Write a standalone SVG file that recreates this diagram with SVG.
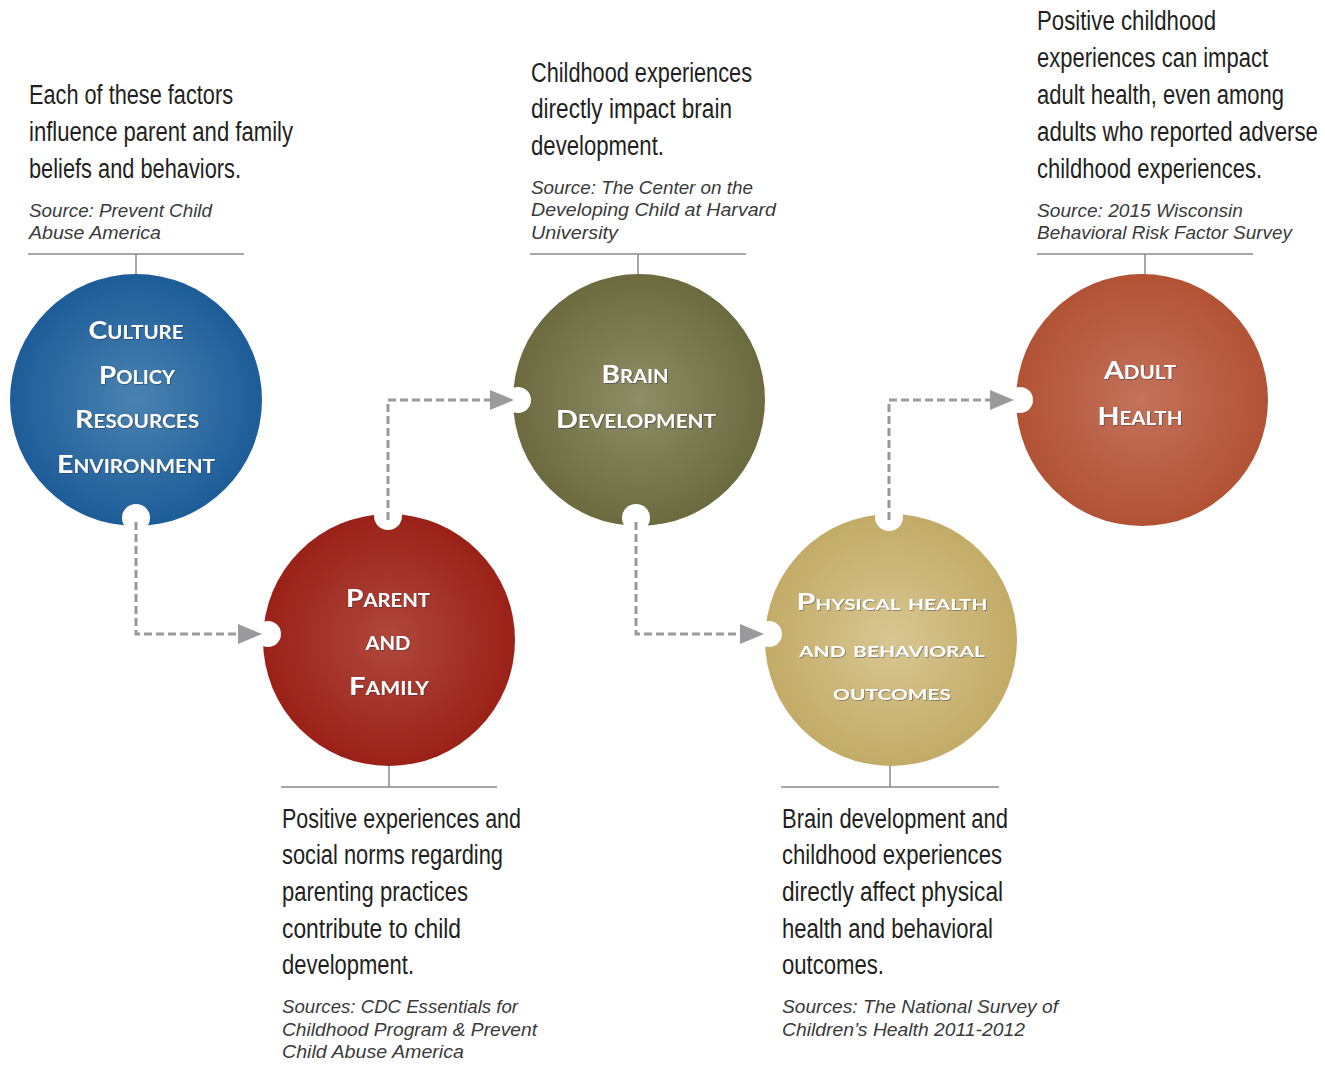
<svg xmlns="http://www.w3.org/2000/svg" width="1325" height="1065" viewBox="0 0 1325 1065">
<style>
.body{font-family:"Liberation Sans",Arial,sans-serif;font-size:27px;fill:#231f20}
.src{font-family:"Liberation Sans",Arial,sans-serif;font-size:19px;font-style:italic;fill:#3a3a3a}
.lbl{font-family:Lato,"Open Sans",sans-serif;font-weight:bold;font-size:25px;font-variant:small-caps;fill:#ffffff;text-anchor:middle;filter:url(#sh)}
.lbl2{font-size:22px}
.rule{stroke:#8a8a8a;stroke-width:1.5;fill:none}
.dash{stroke:#9a9a9e;stroke-width:3;stroke-dasharray:8 4;fill:none}
.notch{fill:#ffffff}
.ah{fill:#9a9a9e}
</style>
<defs>
<radialGradient id="gBlue" cx="50%" cy="50%" r="50%"><stop offset="0" stop-color="#4b83b1"/><stop offset="1" stop-color="#1c5c98"/></radialGradient>
<radialGradient id="gRed" cx="50%" cy="50%" r="50%"><stop offset="0" stop-color="#b0483d"/><stop offset="1" stop-color="#9a2118"/></radialGradient>
<radialGradient id="gOlive" cx="50%" cy="50%" r="50%"><stop offset="0" stop-color="#8f8d65"/><stop offset="1" stop-color="#6c6a3f"/></radialGradient>
<radialGradient id="gGold" cx="50%" cy="50%" r="50%"><stop offset="0" stop-color="#d8c792"/><stop offset="1" stop-color="#c3ab67"/></radialGradient>
<radialGradient id="gRust" cx="50%" cy="50%" r="50%"><stop offset="0" stop-color="#c3725b"/><stop offset="1" stop-color="#b25235"/></radialGradient>
<filter id="sh" x="-10%" y="-30%" width="120%" height="160%"><feDropShadow dx="0.8" dy="0.8" stdDeviation="0.6" flood-color="#1a1a3a" flood-opacity="0.5"/></filter>
</defs>

<!-- annotation rules -->
<g id="rules">
<path class="rule" d="M28 254H244M136 254V277"/>
<path class="rule" d="M530 254H746M638 254V277"/>
<path class="rule" d="M1037 254H1253M1145 254V277"/>
<path class="rule" d="M281 787H497M389 764V787"/>
<path class="rule" d="M781 787H999M890 765V787"/>
</g>

<!-- annotation texts -->
<g id="note-culture">
<text class="body" x="29" y="104" textLength="204" lengthAdjust="spacingAndGlyphs">Each of these factors</text>
<text class="body" x="29" y="141" textLength="264" lengthAdjust="spacingAndGlyphs">influence parent and family</text>
<text class="body" x="29" y="178" textLength="212" lengthAdjust="spacingAndGlyphs">beliefs and behaviors.</text>
<text class="src" x="29" y="217" textLength="183" lengthAdjust="spacingAndGlyphs">Source: Prevent Child</text>
<text class="src" x="29" y="239" textLength="132" lengthAdjust="spacingAndGlyphs">Abuse America</text>
</g>
<g id="note-brain">
<text class="body" x="531" y="82" textLength="221" lengthAdjust="spacingAndGlyphs">Childhood experiences</text>
<text class="body" x="531" y="118" textLength="201" lengthAdjust="spacingAndGlyphs">directly impact brain</text>
<text class="body" x="531" y="155" textLength="133" lengthAdjust="spacingAndGlyphs">development.</text>
<text class="src" x="531" y="194" textLength="222" lengthAdjust="spacingAndGlyphs">Source: The Center on the</text>
<text class="src" x="531" y="216" textLength="245" lengthAdjust="spacingAndGlyphs">Developing Child at Harvard</text>
<text class="src" x="531" y="239" textLength="87" lengthAdjust="spacingAndGlyphs">University</text>
</g>
<g id="note-adult">
<text class="body" x="1037" y="30" textLength="179" lengthAdjust="spacingAndGlyphs">Positive childhood</text>
<text class="body" x="1037" y="67" textLength="231" lengthAdjust="spacingAndGlyphs">experiences can impact</text>
<text class="body" x="1037" y="104" textLength="247" lengthAdjust="spacingAndGlyphs">adult health, even among</text>
<text class="body" x="1037" y="141" textLength="281" lengthAdjust="spacingAndGlyphs">adults who reported adverse</text>
<text class="body" x="1037" y="178" textLength="225" lengthAdjust="spacingAndGlyphs">childhood experiences.</text>
<text class="src" x="1037" y="217" textLength="206" lengthAdjust="spacingAndGlyphs">Source: 2015 Wisconsin</text>
<text class="src" x="1037" y="239" textLength="255" lengthAdjust="spacingAndGlyphs">Behavioral Risk Factor Survey</text>
</g>
<g id="note-parent">
<text class="body" x="282" y="828" textLength="239" lengthAdjust="spacingAndGlyphs">Positive experiences and</text>
<text class="body" x="282" y="864" textLength="221" lengthAdjust="spacingAndGlyphs">social norms regarding</text>
<text class="body" x="282" y="901" textLength="186" lengthAdjust="spacingAndGlyphs">parenting practices</text>
<text class="body" x="282" y="938" textLength="179" lengthAdjust="spacingAndGlyphs">contribute to child</text>
<text class="body" x="282" y="974" textLength="132" lengthAdjust="spacingAndGlyphs">development.</text>
<text class="src" x="282" y="1013" textLength="236" lengthAdjust="spacingAndGlyphs">Sources: CDC Essentials for</text>
<text class="src" x="282" y="1036" textLength="255" lengthAdjust="spacingAndGlyphs">Childhood Program &amp; Prevent</text>
<text class="src" x="282" y="1058" textLength="182" lengthAdjust="spacingAndGlyphs">Child Abuse America</text>
</g>
<g id="note-physical">
<text class="body" x="782" y="828" textLength="226" lengthAdjust="spacingAndGlyphs">Brain development and</text>
<text class="body" x="782" y="864" textLength="220" lengthAdjust="spacingAndGlyphs">childhood experiences</text>
<text class="body" x="782" y="901" textLength="221" lengthAdjust="spacingAndGlyphs">directly affect physical</text>
<text class="body" x="782" y="938" textLength="211" lengthAdjust="spacingAndGlyphs">health and behavioral</text>
<text class="body" x="782" y="974" textLength="102" lengthAdjust="spacingAndGlyphs">outcomes.</text>
<text class="src" x="782" y="1013" textLength="276" lengthAdjust="spacingAndGlyphs">Sources: The National Survey of</text>
<text class="src" x="782" y="1036" textLength="243" lengthAdjust="spacingAndGlyphs">Children’s Health 2011-2012</text>
</g>

<!-- nodes -->
<g id="node-culture">
<circle cx="136" cy="400" r="126" fill="url(#gBlue)"/>
<text class="lbl" x="136" y="339" textLength="95" lengthAdjust="spacingAndGlyphs">Culture</text>
<text class="lbl" x="137" y="384" textLength="76" lengthAdjust="spacingAndGlyphs">Policy</text>
<text class="lbl" x="137" y="428" textLength="124" lengthAdjust="spacingAndGlyphs">Resources</text>
<text class="lbl" x="136" y="473" textLength="158" lengthAdjust="spacingAndGlyphs">Environment</text>
</g>
<g id="node-parent">
<circle cx="389" cy="640" r="126" fill="url(#gRed)"/>
<text class="lbl" x="388" y="607" textLength="84" lengthAdjust="spacingAndGlyphs">Parent</text>
<text class="lbl" x="388" y="650" textLength="45" lengthAdjust="spacingAndGlyphs">and</text>
<text class="lbl" x="389" y="695" textLength="80" lengthAdjust="spacingAndGlyphs">Family</text>
</g>
<g id="node-brain">
<circle cx="639" cy="400" r="126" fill="url(#gOlive)"/>
<text class="lbl" x="635" y="383" textLength="67" lengthAdjust="spacingAndGlyphs">Brain</text>
<text class="lbl" x="636" y="428" textLength="160" lengthAdjust="spacingAndGlyphs">Development</text>
</g>
<g id="node-physical">
<circle cx="891" cy="640" r="126" fill="url(#gGold)"/>
<text class="lbl lbl2" x="892" y="610" textLength="191" lengthAdjust="spacingAndGlyphs">Physical health</text>
<text class="lbl lbl2" x="892" y="657" textLength="186" lengthAdjust="spacingAndGlyphs">and behavioral</text>
<text class="lbl lbl2" x="892" y="700" textLength="118" lengthAdjust="spacingAndGlyphs">outcomes</text>
</g>
<g id="node-adult">
<circle cx="1142" cy="400" r="126" fill="url(#gRust)"/>
<text class="lbl" x="1140" y="379" textLength="72" lengthAdjust="spacingAndGlyphs">Adult</text>
<text class="lbl" x="1140" y="425" textLength="85" lengthAdjust="spacingAndGlyphs">Health</text>
</g>

<!-- connectors -->
<g id="connectors">
<circle class="notch" cx="136" cy="518" r="14"/>
<circle class="notch" cx="268" cy="634" r="13"/>
<circle class="notch" cx="388" cy="516" r="14"/>
<circle class="notch" cx="518" cy="400" r="13"/>
<circle class="notch" cx="636" cy="518" r="14"/>
<circle class="notch" cx="769" cy="634" r="13"/>
<circle class="notch" cx="889" cy="517" r="14"/>
<circle class="notch" cx="1020" cy="400" r="13"/>
<path class="dash" d="M136 522V634H240"/>
<polygon class="ah" points="238,624 262,634 238,644"/>
<path class="dash" d="M388 520V400H492"/>
<polygon class="ah" points="490,390 514,400 490,410"/>
<path class="dash" d="M636 522V634H742"/>
<polygon class="ah" points="740,624 764,634 740,644"/>
<path class="dash" d="M889 520V400H992"/>
<polygon class="ah" points="990,390 1014,400 990,410"/>
</g>
</svg>
